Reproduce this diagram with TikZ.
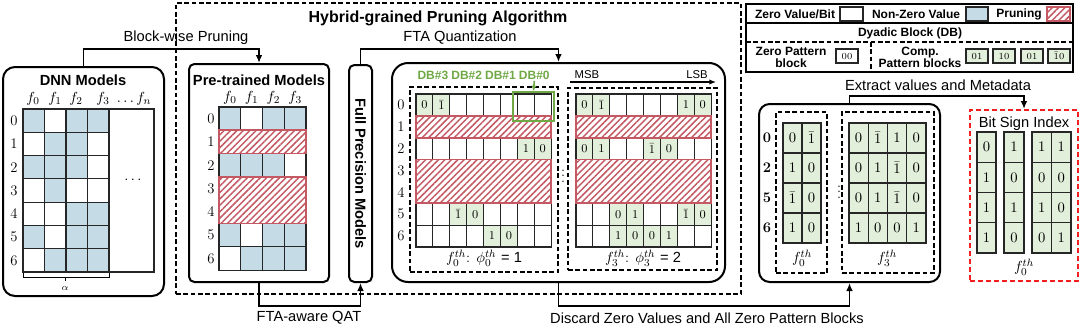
\documentclass[tikz,border=0pt]{standalone}
\usepackage{fontspec}
\newfontfamily\arialf{Liberation Sans}
\usetikzlibrary{arrows.meta,patterns.meta}
\definecolor{cblue}{RGB}{197,220,230}
\definecolor{cgreen}{RGB}{226,239,218}
\definecolor{pred}{RGB}{196,89,100}
\definecolor{dbgreen}{RGB}{112,168,70}
\definecolor{rbox}{RGB}{245,30,30}
\tikzset{
 sbox/.style={draw, line width=1.5pt, rounded corners=#1, inner sep=0pt},
 dbox/.style={draw, line width=1.2pt, dash pattern=on 3.5pt off 2pt, inner sep=0pt},
 grid/.style={draw=black!85, line width=0.8pt},
 bcell/.style={grid, fill=cblue},
 wcell/.style={grid, fill=white},
 gcell/.style={grid, fill=cgreen},
 prune/.style={draw=pred, line width=1.3pt, preaction={fill=white}, pattern={Lines[angle=45,distance=3.4pt,line width=1.1pt]}, pattern color=pred},
 lbl/.style={font=\arialf\fontsize{11}{13}\selectfont, inner sep=1pt},
 ttl/.style={font=\arialf\bfseries\fontsize{11}{13}\selectfont, inner sep=1pt},
 lgd/.style={font=\arialf\bfseries\fontsize{9}{9}\selectfont, inner sep=1pt},
 num/.style={font=\fontsize{9.5}{11}\selectfont, inner sep=0pt},
 bnum/.style={font=\fontsize{11}{13}\selectfont, inner sep=0pt},
 tnum/.style={font=\fontsize{7}{8}\selectfont, inner sep=0pt},
 rowl/.style={font=\fontsize{11}{13}\selectfont, inner sep=0pt},
 mathl/.style={font=\fontsize{11}{13}\selectfont, inner sep=0pt},
 conn/.style={draw, line width=1.2pt},
 arr/.style={conn, -{Latex[length=6pt,width=5pt]}},
}
\newcommand\gcell[6][num]{%
  \draw[gcell] ({#2},{#3}) rectangle ++(#4,#5);
  \node[#1] at ({#2+(#4)/2},{#3+(#5)/2}) {#6};}
\begin{document}
\begin{tikzpicture}[x=0.75pt,y=-0.75pt]
\useasboundingbox (0,0) rectangle (1080,329);

% ---------- Hybrid box ----------
\node[dbox, minimum width=423.75pt, minimum height=218.25pt] (hyb) at (458.5,148.5) {};
\node[ttl, font=\arialf\bfseries\fontsize{12}{14}\selectfont] (title) at (438,18) {Hybrid-grained Pruning Algorithm};

% ---------- DNN Models ----------
\node[sbox=9pt, minimum width=120.75pt, minimum height=171.75pt] (dnn) at (83.5,181.5) {};
\node[ttl] (dnnt) at (83,80) {DNN Models};
\foreach \lab/\x in {f_0/33,f_1/55,f_2/76,f_3/103} \node[mathl] (dnnf\x) at (\x,99) {$\lab$};
\node[mathl] (dnnfn) at (134,99) {$\dots f_n$};
\foreach \c/\r in {0/0,2/0,3/0,1/1,2/1,0/2,1/2,2/2,1/3,2/4,3/4,0/5,2/5,3/5,1/6,2/6,3/6}
  \fill[cblue] ({23+21.5*\c},{109+23.3*\r}) rectangle ++(21.5,23.3);
\draw[grid] (23,109) rectangle (154,272);
\foreach \r in {0,...,6} \foreach \c in {0,...,3}
  \draw[grid] ({23+21.5*\c},{109+23.3*\r}) rectangle ++(21.5,23.3);
\foreach \r in {0,...,6} \node[rowl] (dnnr\r) at (14,{109+23.3*(\r+0.5)}) {\r};
\node[mathl] (dnndots) at (133,180) {$\cdots$};
\draw[line width=0.6pt] (23,273) -- (23,277) -- (109,277) -- (109,273);
\draw[line width=0.6pt] (65,277) -- (65,281);
\node[font=\fontsize{7}{8}\selectfont, inner sep=0pt] (alpha) at (65,288) {$\alpha$};

% ---------- Pre-trained Models ----------
\node[sbox=4pt, minimum width=105pt, minimum height=163.5pt] (pre) at (259,173) {};
\node[ttl] (pret) at (259,80) {Pre-trained Models};
\foreach \c in {0,...,3} \node[mathl] (pref\c) at ({219+21.75*(\c+0.5)},98) {$f_\c$};
\foreach \c/\r in {0/0,2/0,3/0,0/2,1/2,2/2,0/5,2/5,3/5,1/6,2/6,3/6}
  \fill[cblue] ({219+21.75*\c},{107+23.3*\r}) rectangle ++(21.75,23.3);
\foreach \r in {0,2,5,6} \foreach \c in {0,...,3}
  \draw[grid] ({219+21.75*\c},{107+23.3*\r}) rectangle ++(21.75,23.3);
\draw[prune] (219,130.3) rectangle (306,153.6);
\draw[prune] (219,176.9) rectangle (306,223.5);
\foreach \r in {0,...,6} \node[rowl] (prer\r) at (211,{107+23.3*(\r+0.5)}) {\r};

% ---------- Full precision ----------
\node[sbox=4pt, minimum width=17.25pt, minimum height=162.75pt] (fpm) at (360.5,173.5) {};
\node[ttl, rotate=-90] (fpmt) at (fpm.center) {Full Precision Models};

% ---------- Quantization box ----------
\node[sbox=12pt, minimum width=249.75pt, minimum height=164.25pt] (quant) at (558.5,172.5) {};
\node[dbox, minimum width=111pt, minimum height=138.75pt] (qd1) at (484,179.5) {};
\node[dbox, minimum width=111.75pt, minimum height=136.5pt] (qd2) at (642.5,179) {};
% grid 1
\foreach \r in {0,2,5,6} \foreach \c in {0,...,7}
  \draw[wcell] ({416+16.9*\c},{94+21.86*\r}) rectangle ++(16.9,21.86);
\foreach \r/\c/\v in {0/0/0,0/1/\bar1,2/6/1,2/7/0,5/2/\bar1,5/3/0,6/4/1,6/5/0}
  \gcell{416+16.9*\c}{94+21.86*\r}{16.9}{21.86}{$\v$};
\draw[prune] (416,115.9) rectangle (551.2,137.7);
\draw[prune] (416,159.6) rectangle (551.2,203.3);
\foreach \r in {0,...,6} \node[rowl] (qr\r) at (401,{94+21.86*(\r+0.5)}) {\r};
\foreach \k/\n in {0/3,1/2,2/1,3/0}
  \node[font=\arialf\bfseries\fontsize{9}{10}\selectfont, text=dbgreen, inner sep=1pt] (db\n) at ({416+16.9*(2*\k+1)},75) {DB\#\n};
\node[draw=dbgreen, line width=1.5pt, minimum width=30.75pt, minimum height=21.75pt, inner sep=0pt] (dbg) at (533.5,106.5) {};
\draw[dbgreen, line width=1.2pt, -{Latex[length=4pt,width=4pt]}] (db0.south) -- (dbg.north);
% grid 2
\foreach \r in {0,2,5,6} \foreach \c in {0,...,7}
  \draw[wcell] ({576+16.9*\c},{94+21.86*\r}) rectangle ++(16.9,21.86);
\foreach \r/\c/\v in {0/0/0,0/1/\bar1,0/6/1,0/7/0,2/0/0,2/1/1,2/4/\bar1,2/5/0,5/2/0,5/3/1,5/6/\bar1,5/7/0,6/2/1,6/3/0,6/4/0,6/5/1}
  \gcell{576+16.9*\c}{94+21.86*\r}{16.9}{21.86}{$\v$};
\draw[prune] (576,115.9) rectangle (711.2,137.7);
\draw[prune] (576,159.6) rectangle (711.2,203.3);
\node[mathl] (vd1) at (563,172) {$\vdots$};
% MSB / LSB
\node[font=\arialf\fontsize{8.5}{10}\selectfont, inner sep=1pt] (msb) at (587,75) {MSB};
\node[font=\arialf\fontsize{8.5}{10}\selectfont, inner sep=1pt] (lsb) at (697,75) {LSB};
\coordinate (msbl) at (570,82);
\coordinate (lsbr) at (716,82);
\draw[line width=0.9pt, -{Latex[length=5pt,width=4pt]}] (msbl) -- (lsbr);
% captions
\node[mathl] (cap1) at (484,258) {$f_0^{th}$: $\phi_0^{th}$ {\arialf= 1}};
\node[mathl] (cap2) at (643,258) {$f_3^{th}$: $\phi_3^{th}$ {\arialf= 2}};

% ---------- Legend ----------
\node[draw, line width=1.3pt, minimum width=245.25pt, minimum height=51pt, inner sep=0pt] (leg) at (909.5,38) {};
\draw[line width=1.3pt] (746,23) -- (1073,23);
\draw[dbox] (746,42) -- (1073,42);
\draw[dbox] (871,42) -- (871,72);
\node[lgd] (lg1) at (795,14) {Zero Value/Bit};
\draw[grid, line width=1pt, fill=white] (840,7) rectangle (863,21);
\node[lgd] (lg2) at (916,14) {Non-Zero Value};
\draw[grid, line width=1pt, fill=cblue] (966,7) rectangle (988,21);
\node[lgd] (lg3) at (1019,14) {Pruning};
\draw[prune] (1047,7) rectangle (1070,21);
\node[lgd] (lg4) at (910,33) {Dyadic Block (DB)};
\node[lgd, align=center] (lg5) at (791,57) {Zero Pattern\\block};
\node[lgd, align=center] (lg6) at (920,57) {Comp.\\Pattern blocks};
\draw[grid, line width=1.1pt, fill=white] (836,49) rectangle (858,63);
\node[tnum] (z00) at (847,56) {$00$};
\foreach \x/\v in {966/01,993/10,1021/01,1048/\bar10}
  \gcell[tnum]{\x}{49}{22}{14}{$\v$};

% ---------- Extracted ----------
\node[sbox=8pt, minimum width=135.75pt, minimum height=133.5pt] (ext) at (849.5,193) {};
\node[dbox, minimum width=38.25pt, minimum height=120.75pt] (ed1) at (801.5,192.5) {};
\node[dbox, minimum width=69pt, minimum height=120.75pt] (ed2) at (888,192.5) {};
\foreach \r/\t in {0/0,1/2,2/5,3/6} \node[rowl, font=\bfseries\fontsize{11}{13}\selectfont] (er\t) at (767,{123+30*(\r+0.5)}) {\t};
\foreach \c/\r/\v in {0/0/0,1/0/\bar1,0/1/1,1/1/0,0/2/\bar1,1/2/0,0/3/1,1/3/0}
  \gcell[bnum]{783+19*\c}{123+30*\r}{19}{30}{$\v$};
\foreach \c/\r/\v in {0/0/0,1/0/\bar1,2/0/1,3/0/0,0/1/0,1/1/1,2/1/\bar1,3/1/0,0/2/0,1/2/1,2/2/\bar1,3/2/0,0/3/1,1/3/0,2/3/0,3/3/1}
  \gcell[bnum]{849+19.25*\c}{123+30*\r}{19.25}{30}{$\v$};
\node[mathl] (ef0) at (802,258) {$f_0^{th}$};
\node[mathl] (ef3) at (887,258) {$f_3^{th}$};
\node[mathl] (vd2) at (839,188) {$\vdots$};

% ---------- Metadata ----------
\node[draw=rbox, line width=1.5pt, dash pattern=on 4pt off 2pt, minimum width=81pt, minimum height=128.25pt, inner sep=0pt] (meta) at (1024,195.5) {};
\node[lbl] (bsi) at (1024,124) {Bit Sign Index};
\foreach \r/\v in {0/0,1/1,2/1,3/1} \gcell[bnum]{977}{132+30.25*\r}{19}{30.25}{$\v$};
\foreach \r/\v in {0/1,1/0,2/1,3/0} \gcell[bnum]{1004}{132+30.25*\r}{20}{30.25}{$\v$};
\foreach \c/\r/\v in {0/0/1,1/0/1,0/1/0,1/1/0,0/2/1,1/2/0,0/3/0,1/3/1}
  \gcell[bnum]{1032+19.5*\c}{132+30.25*\r}{19.5}{30.25}{$\v$};
\node[mathl] (mf0) at (1024,267) {$f_0^{th}$};

% ---------- Connectors ----------
\draw[arr] (dnn.north) -- ++(0,-17) -| (pre.north);
\node[lbl] (l1) at (186,38) {Block-wise Pruning};
\draw[arr] (pre.south) -- ++(0,23) -| (fpm.south);
\node[lbl] (l2) at (309,318) {FTA-aware QAT};
\draw[arr] (fpm.north) -- ++(0,-15) -| (quant.north);
\node[lbl] (l3) at (460,38) {FTA Quantization};
\draw[arr] (quant.south) -- ++(0,23) -| (ext.south);
\node[lbl] (l4) at (707,318) {Discard Zero Values and All Zero Pattern Blocks};
\draw[arr] (ext.north) -- ++(0,-7) -| (meta.north);
\node[lbl] (l5) at (938,85) {Extract values and Metadata};
\end{tikzpicture}
\end{document}
